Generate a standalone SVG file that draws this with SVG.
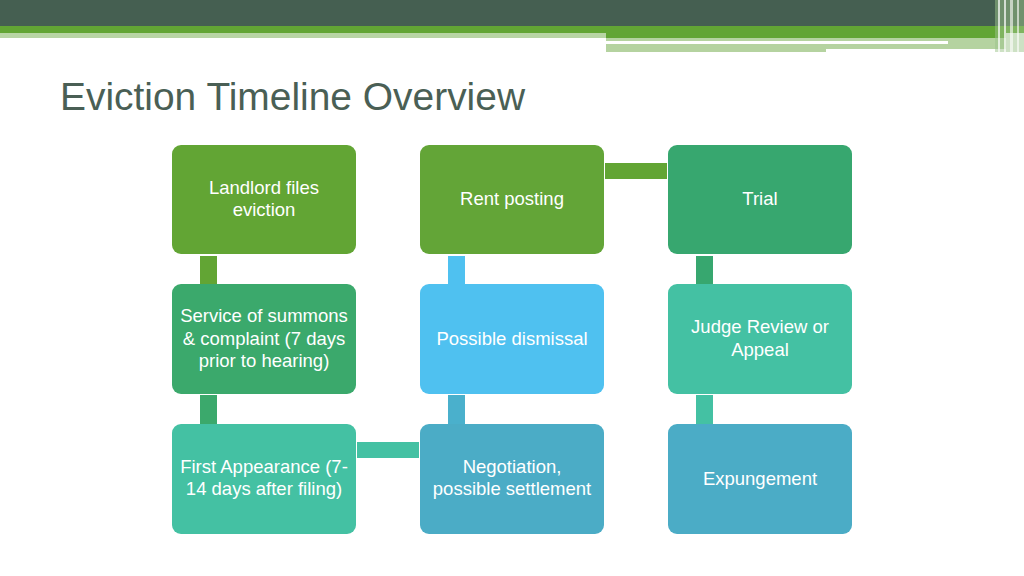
<svg xmlns="http://www.w3.org/2000/svg" width="1024" height="576" viewBox="0 0 1024 576">
<style>
.n text{font-family:"Liberation Sans",Arial,sans-serif;font-size:18.5px;fill:#fff;text-anchor:middle}
.title{font-family:"Liberation Sans",Arial,sans-serif;font-size:38.5px;fill:#4A5F55}
</style>
<rect width="1024" height="576" fill="#fff"/>
<g id="header">
<rect x="0" y="0" width="1024" height="26" fill="#455F51"/>
<rect x="0" y="26" width="1024" height="7" fill="#62A534"/>
<rect x="606" y="33" width="400" height="5" fill="#62A534"/>
<rect x="0" y="33" width="606" height="5" fill="#B8D5A4"/>
<rect x="606" y="38" width="400" height="14" fill="#B5D3A0"/>
<rect x="606" y="41" width="342" height="3" fill="#fff"/>
<rect x="826" y="49" width="180" height="3" fill="#fff"/>
<rect x="995" y="0" width="29" height="52" fill="#9CC48A" opacity="0.5"/>
<rect x="998" y="0" width="2" height="52" fill="#fff" opacity="0.7"/>
<rect x="1004" y="0" width="2" height="52" fill="#fff" opacity="0.7"/>
<rect x="1010" y="0" width="3" height="52" fill="#fff" opacity="0.6"/>
<rect x="1017" y="0" width="2" height="52" fill="#fff" opacity="0.6"/>
</g>
<text class="title" x="60" y="110" textLength="465" lengthAdjust="spacingAndGlyphs">Eviction Timeline Overview</text>
<g id="connectors">
<rect x="200" y="256" width="17" height="28" fill="#62A534"/>
<rect x="448" y="256" width="17" height="28" fill="#4FC1F0"/>
<rect x="696" y="256" width="17" height="28" fill="#37A76F"/>
<rect x="200" y="395" width="17" height="29" fill="#3BA96C"/>
<rect x="448" y="395" width="17" height="29" fill="#4AB0CC"/>
<rect x="696" y="395" width="17" height="29" fill="#44C1A3"/>
<rect x="605" y="163" width="62" height="16" fill="#62A534"/>
<rect x="357" y="442" width="62" height="16" fill="#44C1A3"/>
</g>
<g id="n1" class="n"><rect x="172" y="145" width="184" height="109" rx="9" fill="#62A534"/><text x="264" y="194">Landlord files</text><text x="264" y="216">eviction</text></g>
<g id="n2" class="n"><rect x="420" y="145" width="184" height="109" rx="9" fill="#63A537"/><text x="512" y="205">Rent posting</text></g>
<g id="n3" class="n"><rect x="668" y="145" width="184" height="109" rx="9" fill="#37A76F"/><text x="760" y="205">Trial</text></g>
<g id="n4" class="n"><rect x="172" y="284" width="184" height="110" rx="9" fill="#3BA96C"/><text x="264" y="322">Service of summons</text><text x="264" y="345">&amp; complaint (7 days</text><text x="264" y="367">prior to hearing)</text></g>
<g id="n5" class="n"><rect x="420" y="284" width="184" height="110" rx="9" fill="#4FC1F0"/><text x="512" y="345">Possible dismissal</text></g>
<g id="n6" class="n"><rect x="668" y="284" width="184" height="110" rx="9" fill="#44C1A3"/><text x="760" y="333">Judge Review or</text><text x="760" y="356">Appeal</text></g>
<g id="n7" class="n"><rect x="172" y="424" width="184" height="110" rx="9" fill="#44C1A3"/><text x="264" y="473">First Appearance (7-</text><text x="264" y="495">14 days after filing)</text></g>
<g id="n8" class="n"><rect x="420" y="424" width="184" height="110" rx="9" fill="#4BACC6"/><text x="512" y="473">Negotiation,</text><text x="512" y="495">possible settlement</text></g>
<g id="n9" class="n"><rect x="668" y="424" width="184" height="110" rx="9" fill="#4BACC6"/><text x="760" y="485">Expungement</text></g>
</svg>
